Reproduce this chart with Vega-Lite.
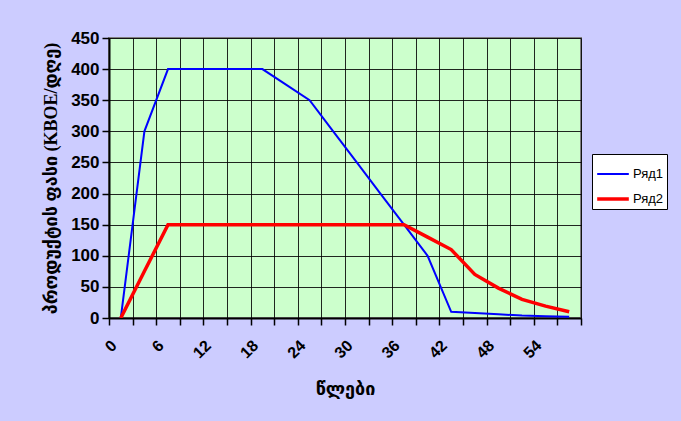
{
  "$schema": "https://vega.github.io/schema/vega-lite/v6.json",
  "autosize": "none",
  "width": 472,
  "height": 280,
  "padding": {"left": 109, "top": 38, "right": 100, "bottom": 103},
  "background": "#CCCCFF",
  "config": {
    "view": {"fill": "#CCFFCC", "stroke": "#808080", "strokeWidth": 2},
    "axis": {
      "gridColor": "#000000",
      "gridOpacity": 0.85,
      "gridWidth": 1,
      "domainColor": "#000000",
      "domainWidth": 2,
      "tickColor": "#000000",
      "tickWidth": 1.5,
      "tickSize": 7,
      "labelColor": "#000000",
      "labelFont": "Liberation Sans",
      "labelFontWeight": "bold",
      "titleColor": "#000000",
      "titleFontWeight": "bold"
    }
  },
  "datasets": {
    "series": [
      {"year": 0, "series": "Ряд1", "value": 0},
      {"year": 3, "series": "Ряд1", "value": 300},
      {"year": 6, "series": "Ряд1", "value": 400},
      {"year": 9, "series": "Ряд1", "value": 400},
      {"year": 12, "series": "Ряд1", "value": 400},
      {"year": 15, "series": "Ряд1", "value": 400},
      {"year": 18, "series": "Ряд1", "value": 400},
      {"year": 21, "series": "Ряд1", "value": 375},
      {"year": 24, "series": "Ряд1", "value": 350},
      {"year": 27, "series": "Ряд1", "value": 300},
      {"year": 30, "series": "Ряд1", "value": 250},
      {"year": 33, "series": "Ряд1", "value": 200},
      {"year": 36, "series": "Ряд1", "value": 150},
      {"year": 39, "series": "Ряд1", "value": 100},
      {"year": 42, "series": "Ряд1", "value": 10},
      {"year": 45, "series": "Ряд1", "value": 8},
      {"year": 48, "series": "Ряд1", "value": 6},
      {"year": 51, "series": "Ряд1", "value": 4},
      {"year": 54, "series": "Ряд1", "value": 3},
      {"year": 57, "series": "Ряд1", "value": 2},
      {"year": 0, "series": "Ряд2", "value": 0},
      {"year": 3, "series": "Ряд2", "value": 75},
      {"year": 6, "series": "Ряд2", "value": 150},
      {"year": 9, "series": "Ряд2", "value": 150},
      {"year": 12, "series": "Ряд2", "value": 150},
      {"year": 15, "series": "Ряд2", "value": 150},
      {"year": 18, "series": "Ряд2", "value": 150},
      {"year": 21, "series": "Ряд2", "value": 150},
      {"year": 24, "series": "Ряд2", "value": 150},
      {"year": 27, "series": "Ряд2", "value": 150},
      {"year": 30, "series": "Ряд2", "value": 150},
      {"year": 33, "series": "Ряд2", "value": 150},
      {"year": 36, "series": "Ряд2", "value": 150},
      {"year": 39, "series": "Ряд2", "value": 130},
      {"year": 42, "series": "Ряд2", "value": 110},
      {"year": 45, "series": "Ряд2", "value": 70},
      {"year": 48, "series": "Ряд2", "value": 48},
      {"year": 51, "series": "Ряд2", "value": 30},
      {"year": 54, "series": "Ряд2", "value": 19},
      {"year": 57, "series": "Ряд2", "value": 10}
    ]
  },
  "data": {"name": "series"},
  "mark": {"type": "line", "clip": true},
  "encoding": {
    "x": {
      "field": "year",
      "type": "quantitative",
      "scale": {"domain": [-1.5, 58.5], "nice": false, "zero": false},
      "axis": {
        "values": [-1.5, 1.5, 4.5, 7.5, 10.5, 13.5, 16.5, 19.5, 22.5, 25.5, 28.5, 31.5, 34.5, 37.5, 40.5, 43.5, 46.5, 49.5, 52.5, 55.5, 58.5],
        "labelExpr": "(datum.value + 1.5) % 6 == 0 && datum.value < 57 ? format(datum.value + 1.5, 'd') : ''",
        "labelOffset": -1,
        "labelAngle": -45,
        "labelAlign": "right",
        "labelBaseline": "top",
        "labelPadding": 12,
        "labelFontSize": 16,
        "labelOverlap": false,
        "labelFlush": false,
        "labelBound": false,
        "title": "წლები",
        "titleFont": "DejaVu Sans",
        "titleFontSize": 18,
        "titlePadding": 20
      }
    },
    "y": {
      "field": "value",
      "type": "quantitative",
      "scale": {"domain": [0, 450], "nice": false},
      "axis": {
        "values": [0, 50, 100, 150, 200, 250, 300, 350, 400, 450],
        "labelFontSize": 17,
        "labelPadding": 3,
        "title": "პროდუქტის ფასი (KBOE/დღე)",
        "titleFont": "Liberation Serif, DejaVu Sans",
        "titleFontSize": 18,
        "titlePadding": 10
      }
    },
    "color": {
      "field": "series",
      "type": "nominal",
      "scale": {"domain": ["Ряд1", "Ряд2"], "range": ["#0000FF", "#FF0000"]},
      "legend": {
        "title": null,
        "orient": "none",
        "legendX": 483,
        "legendY": 116,
        "fillColor": "#FFFFFF",
        "strokeColor": "#000000",
        "padding": 3,
        "symbolType": "stroke",
        "symbolSize": 1000,
        "symbolStrokeWidth": 3,
        "labelFont": "Liberation Sans",
        "labelFontSize": 13,
        "labelColor": "#000000",
        "rowPadding": -13,
        "labelOffset": 2
      }
    },
    "strokeWidth": {
      "field": "series",
      "type": "nominal",
      "scale": {"domain": ["Ряд1", "Ряд2"], "range": [2, 3.5]},
      "legend": {
        "title": null,
        "orient": "none",
        "legendX": 483,
        "legendY": 116
      }
    }
  }
}
